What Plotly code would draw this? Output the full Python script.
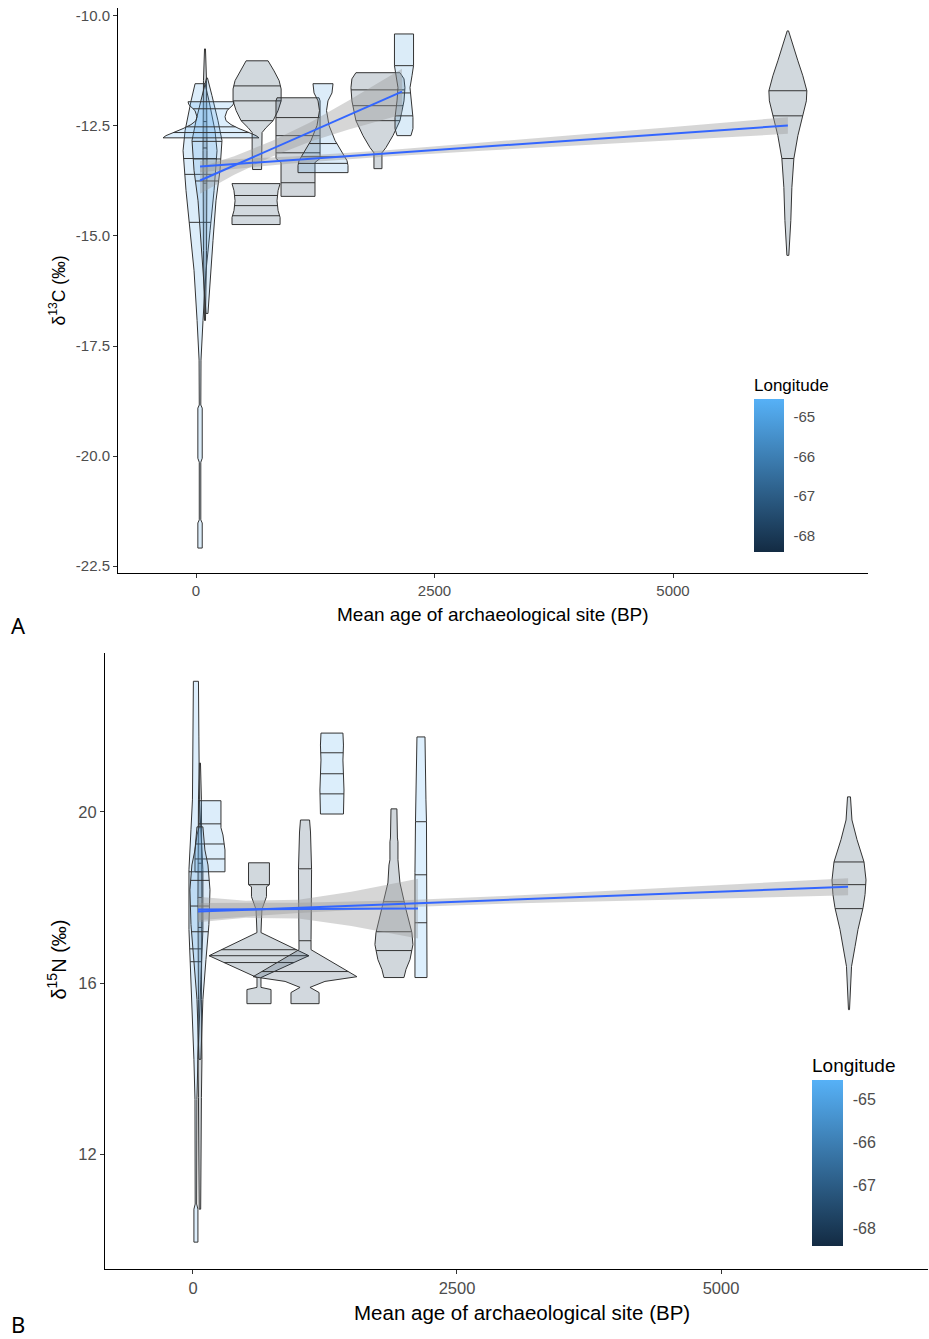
import numpy as np
import plotly.graph_objects as go

# ---------------------------------------------------------------------------
# Colour scale for site longitude (continuous gradient, low -> high)
# ---------------------------------------------------------------------------
LON_LIMITS = [-68.42, -64.57]
LOW_RGB = [19, 43, 67]       # #132B43
HIGH_RGB = [86, 177, 247]    # #56B1F7
LON_TICKS = [-68, -67, -66, -65]
LON_TICKTEXT = ["-68", "-67", "-66", "-65"]

# ---------------------------------------------------------------------------
# Panel A: δ13C by site (violin density profiles, half-widths in BP units)
# ---------------------------------------------------------------------------
A_AGE = [42, 94, 115, 157, 640, 629, 1069, 1331, 1907, 2180, 6204]
A_LON = [-64.9, -68.42, -65.0, -64.6, -68.0, -67.8, -68.2, -65.0, -68.1, -65.1, -68.0]
A_DENS_Y = [
    [-11.54, -11.93, -12.61, -13.06, -13.97, -14.88, -15.78, -16.92, -17.82, -18.84, -18.91, -20.05, -20.14, -21.45, -21.52, -22.09],
    [-10.75, -11.47, -13.06, -15.33, -16.92],
    [-11.41, -11.81, -12.38, -12.83, -13.51, -14.20, -15.10, -16.01, -16.76],
    [-11.95, -12.02, -12.15, -12.29, -12.38, -12.47, -12.56, -12.65, -12.72, -12.77],
    [-11.02, -11.25, -11.47, -11.66, -11.93, -12.15, -12.38, -12.54, -12.65, -13.06, -13.49],
    [-13.81, -13.97, -14.20, -14.42, -14.58, -14.74],
    [-11.86, -11.93, -13.24, -13.33, -14.10],
    [-11.54, -11.75, -11.93, -12.15, -12.49, -12.83, -13.06, -13.29, -13.40, -13.56],
    [-11.29, -11.43, -11.63, -11.93, -12.38, -12.72, -12.99, -13.11, -13.47],
    [-10.41, -11.13, -11.36, -11.63, -11.93, -12.31, -12.56, -12.72],
    [-10.34, -10.68, -11.02, -11.36, -11.70, -11.93, -12.27, -12.72, -13.24, -13.90, -14.65, -15.44],
]
A_DENS_W = [
    [52, 94, 157, 178, 147, 105, 63, 31, 10, 8, 23, 23, 8, 8, 23, 23],
    [5, 16, 21, 16, 5],
    [5, 52, 115, 157, 136, 94, 63, 31, 10],
    [241, 231, 168, 147, 157, 210, 293, 398, 472, 503],
    [115, 178, 231, 252, 252, 220, 168, 94, 52, 52, 47],
    [252, 231, 220, 231, 252, 252],
    [220, 231, 231, 178, 178],
    [105, 94, 52, 37, 63, 126, 189, 252, 262, 262],
    [231, 273, 283, 273, 231, 157, 84, 42, 42],
    [100, 100, 84, 63, 73, 94, 94, 73],
    [7, 52, 105, 157, 199, 194, 157, 105, 63, 42, 31, 10],
]
A_QUANT = [
    [-13.24, -13.60, -14.69],
    [-12.40, -13.00, -13.80],
    [-12.85, -13.25, -13.75],
    [-12.11, -12.52, -12.65],
    [-11.59, -11.93, -12.38],
    [-14.08, -14.31, -14.54],
    [-12.31, -12.72, -13.11, -13.79],
    [-12.90, -13.20, -13.35],
    [-11.68, -12.04, -12.38],
    [-11.13, -11.75, -12.27],
    [-11.70, -12.27, -13.24],
]
# Linear fits (two groups) and their standard-error half-widths
A_FIT_X = [[42, 2159], [42, 6204]]
A_FIT_Y = [[-13.74, -11.72], [-13.42, -12.49]]
A_BAND_X = [[42, 400, 800, 1200, 1600, 2159], [42, 1000, 2000, 3000, 4000, 5000, 6204]]
A_BAND_HW = [[0.30, 0.21, 0.18, 0.22, 0.33, 0.52], [0.13, 0.08, 0.07, 0.09, 0.12, 0.15, 0.19]]
A_YTICKS = [-22.5, -20.0, -17.5, -15.0, -12.5, -10.0]
A_YTICKTEXT = ["-22.5", "-20.0", "-17.5", "-15.0", "-12.5", "-10.0"]

# ---------------------------------------------------------------------------
# Panel B: δ15N by site
# ---------------------------------------------------------------------------
B_AGE = [28, 66, 161, 66, 625, 1061, 1316, 1903, 2159, 6212]
B_LON = [-64.7, -68.42, -64.9, -65.3, -68.0, -67.9, -64.8, -68.1, -64.57, -68.0]
B_DENS_Y = [
    [23.05, 21.75, 20.28, 19.58, 18.65, 17.25, 16.08, 15.38, 14.22, 13.28, 10.84, 10.72, 9.95],
    [21.14, 20.28, 17.95, 15.62, 14.22, 13.33, 12.40, 10.72],
    [20.26, 19.63, 19.46, 19.11, 18.60],
    [19.65, 19.11, 18.76, 18.18, 17.37, 16.55, 15.62, 14.22],
    [18.81, 18.30, 18.25, 18.02, 17.72, 17.18, 16.64, 16.13, 15.90, 15.85, 15.52],
    [19.81, 19.53, 18.65, 17.02, 16.78, 16.15, 16.04, 15.90, 15.78, 15.52],
    [21.84, 21.56, 21.21, 20.51, 19.95],
    [20.07, 19.39, 19.30, 18.88, 18.76, 18.34, 17.72, 17.18, 16.90, 16.55, 16.32, 16.13],
    [21.75, 21.21, 20.28, 19.77, 18.58, 17.25, 16.13],
    [20.35, 19.81, 19.35, 18.83, 18.41, 18.07, 17.76, 17.25, 16.85, 16.39, 15.38],
]
B_DENS_W = [
    [24, 28, 33, 47, 66, 66, 47, 33, 19, 9, 7, 19, 19],
    [5, 14, 19, 14, 19, 14, 9, 7],
    [104, 104, 123, 142, 142],
    [28, 47, 76, 95, 85, 57, 28, 9],
    [99, 99, 71, 71, 28, 19, 473, 19, 19, 114, 114],
    [43, 52, 62, 57, 57, 492, 189, 47, 133, 133],
    [104, 109, 104, 114, 109],
    [28, 33, 38, 38, 47, 57, 114, 170, 180, 152, 114, 95],
    [38, 43, 47, 52, 57, 57, 57],
    [14, 28, 76, 142, 161, 152, 133, 85, 57, 24, 5],
]
B_QUANT = [
    [18.60, 16.80, 16.50],
    [18.80, 18.00, 17.30],
    [19.72, 19.25, 18.90],
    [18.40, 17.80, 17.20],
    [18.30, 16.78, 16.64, 16.48],
    [18.67, 16.99, 16.27],
    [21.38, 20.89, 20.42],
    [17.90, 17.20, 16.76],
    [19.77, 18.53, 17.41],
    [18.83, 18.30, 17.74],
]
B_FIT_X = [[47, 6203], [47, 2131]]
B_FIT_Y = [[17.67, 18.25], [17.72, 17.74]]
B_BAND_X = [[47, 1000, 2000, 3000, 4000, 5000, 6203], [47, 500, 1000, 1500, 2131]]
B_BAND_HW = [[0.20, 0.12, 0.08, 0.09, 0.12, 0.16, 0.20], [0.30, 0.20, 0.22, 0.40, 0.70]]
B_YTICKS = [12, 16, 20]
B_YTICKTEXT = ["12", "16", "20"]

X_TICKS = [0, 2500, 5000]
X_TICKTEXT = ["0", "2500", "5000"]

FONT = "Liberation Sans, Arial, sans-serif"
OUTLINE = "#333333"


def lon_rgb(lon):
    t = (lon - LON_LIMITS[0]) / (LON_LIMITS[1] - LON_LIMITS[0])
    t = min(max(t, 0.0), 1.0)
    return [round(lo + t * (hi - lo)) for lo, hi in zip(LOW_RGB, HIGH_RGB)]


def lon_rgba(lon, alpha):
    r, g, b = lon_rgb(lon)
    return f"rgba({r},{g},{b},{alpha})"


def add_violins(fig, ages, lons, dens_y, dens_w, quants, xa, ya):
    for age, lon, ys, ws, qs in zip(ages, lons, dens_y, dens_w, quants):
        ys = np.asarray(ys, float)
        ws = np.asarray(ws, float)
        order = np.argsort(ys)
        ys, ws = ys[order], ws[order]
        px = np.concatenate([age + ws, (age - ws)[::-1], [age + ws[0]]])
        py = np.concatenate([ys, ys[::-1], [ys[0]]])
        fig.add_trace(go.Scatter(
            x=px, y=py, mode="lines", fill="toself",
            fillcolor=lon_rgba(lon, 0.2),
            line=dict(color=OUTLINE, width=1),
            xaxis=xa, yaxis=ya, hoverinfo="skip", showlegend=False))
        qx, qy = [], []
        for q in qs:
            w = float(np.interp(q, ys, ws))
            qx += [age - w, age + w, None]
            qy += [q, q, None]
        fig.add_trace(go.Scatter(
            x=qx, y=qy, mode="lines", line=dict(color=OUTLINE, width=1),
            xaxis=xa, yaxis=ya, hoverinfo="skip", showlegend=False))


def add_fits(fig, fit_x, fit_y, band_x, band_hw, xa, ya):
    for fx, fy, bx, bh in zip(fit_x, fit_y, band_x, band_hw):
        bx = np.asarray(bx, float)
        c = np.interp(bx, fx, fy)
        up = c + np.asarray(bh)
        lo = c - np.asarray(bh)
        fig.add_trace(go.Scatter(
            x=np.concatenate([bx, bx[::-1]]), y=np.concatenate([up, lo[::-1]]),
            mode="lines", fill="toself", fillcolor="rgba(153,153,153,0.4)",
            line=dict(width=0), xaxis=xa, yaxis=ya,
            hoverinfo="skip", showlegend=False))
    for fx, fy in zip(fit_x, fit_y):
        fig.add_trace(go.Scatter(
            x=fx, y=fy, mode="lines", line=dict(color="#3366FF", width=2),
            xaxis=xa, yaxis=ya, hoverinfo="skip", showlegend=False))


def add_scale_carrier(fig, ages, lons, dens_y, xa, ya, cax):
    mids = [float(np.median(y)) for y in dens_y]
    fig.add_trace(go.Scatter(
        x=ages, y=mids, mode="markers",
        marker=dict(color=lons, coloraxis=cax, size=1, opacity=0),
        xaxis=xa, yaxis=ya, hoverinfo="skip", showlegend=False))


fig = go.Figure()

add_violins(fig, A_AGE, A_LON, A_DENS_Y, A_DENS_W, A_QUANT, "x", "y")
add_fits(fig, A_FIT_X, A_FIT_Y, A_BAND_X, A_BAND_HW, "x", "y")
add_scale_carrier(fig, A_AGE, A_LON, A_DENS_Y, "x", "y", "coloraxis")

add_violins(fig, B_AGE, B_LON, B_DENS_Y, B_DENS_W, B_QUANT, "x2", "y2")
add_fits(fig, B_FIT_X, B_FIT_Y, B_BAND_X, B_BAND_HW, "x2", "y2")
add_scale_carrier(fig, B_AGE, B_LON, B_DENS_Y, "x2", "y2", "coloraxis2")

W, H = 929, 1339


def px_x(v):
    return v / W


def px_y(v):
    return 1 - v / H


def axis_style(size):
    return dict(
        showline=True, linecolor="black", linewidth=1,
        ticks="outside", ticklen=4, tickcolor=OUTLINE, tickwidth=1,
        showgrid=False, zeroline=False,
        tickfont=dict(family=FONT, size=size, color="#4D4D4D"))


def colorbar(x_px, top_px, len_px, thick, tsize, lsize):
    return dict(
        x=px_x(x_px), xanchor="left", xpad=0,
        y=px_y(top_px), yanchor="top", ypad=0,
        len=len_px, lenmode="pixels",
        thickness=thick, thicknessmode="pixels",
        outlinewidth=0,
        title=dict(text="Longitude", side="top",
                   font=dict(family=FONT, size=tsize, color="black")),
        tickvals=LON_TICKS, ticktext=LON_TICKTEXT,
        ticks="outside", ticklen=7, tickcolor="white", tickwidth=1,
        tickfont=dict(family=FONT, size=lsize, color="#4D4D4D"))


colorscale = [[0, "rgb({},{},{})".format(*LOW_RGB)], [1, "rgb({},{},{})".format(*HIGH_RGB)]]

fig.update_layout(
    width=W, height=H,
    margin=dict(l=0, r=0, t=0, b=0),
    paper_bgcolor="white", plot_bgcolor="white",
    showlegend=False,
    xaxis=dict(domain=[px_x(118), px_x(868)], range=[-818, 7044], anchor="y",
               tickvals=X_TICKS, ticktext=X_TICKTEXT, **axis_style(15)),
    yaxis=dict(domain=[px_y(573), px_y(7)], range=[-22.66, -9.82], anchor="x",
               tickvals=A_YTICKS, ticktext=A_YTICKTEXT, **axis_style(15)),
    xaxis2=dict(domain=[px_x(105), px_x(928)], range=[-833, 6960], anchor="y2",
                tickvals=X_TICKS, ticktext=X_TICKTEXT, **axis_style(16.5)),
    yaxis2=dict(domain=[px_y(1270), px_y(653)], range=[9.32, 23.71], anchor="x2",
                tickvals=B_YTICKS, ticktext=B_YTICKTEXT, **axis_style(16.5)),
    coloraxis=dict(colorscale=colorscale, cmin=LON_LIMITS[0], cmax=LON_LIMITS[1],
                   colorbar=colorbar(754, 375, 177, 30, 17, 15)),
    coloraxis2=dict(colorscale=colorscale, cmin=LON_LIMITS[0], cmax=LON_LIMITS[1],
                    colorbar=colorbar(812, 1055, 192, 31, 19, 16)),
)

annotations = [
    dict(text="Mean age of archaeological site (BP)", x=px_x(493), y=px_y(614),
         font=dict(family=FONT, size=19, color="black")),
    dict(text="Mean age of archaeological site (BP)", x=px_x(522), y=px_y(1313),
         font=dict(family=FONT, size=20.5, color="black")),
    dict(text="δ<sup>13</sup>C (‰)", x=px_x(57), y=px_y(290), textangle=-90,
         font=dict(family=FONT, size=17.5, color="black")),
    dict(text="δ<sup>15</sup>N (‰)", x=px_x(57), y=px_y(960), textangle=-90,
         font=dict(family=FONT, size=20, color="black")),
    dict(text="A", x=px_x(18), y=px_y(625), font=dict(family="Noto Sans, sans-serif", size=22, color="black")),
    dict(text="B", x=px_x(18), y=px_y(1325), font=dict(family="Noto Sans, sans-serif", size=22, color="black")),
]
for a in annotations:
    a.update(xref="paper", yref="paper", showarrow=False, xanchor="center", yanchor="middle")
fig.update_layout(annotations=annotations)

fig.write_html("out.html")
